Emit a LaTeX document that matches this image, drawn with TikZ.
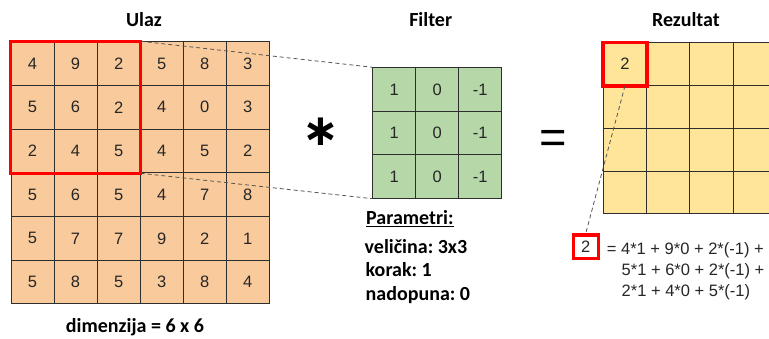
\documentclass[tikz,border=0pt]{standalone}
\usepackage{fontspec}
\setmainfont{Liberation Sans}
\newfontfamily\carl{Carlito}
\newfontfamily\deja{DejaVu Sans}
\frenchspacing
\definecolor{inc}{HTML}{F9CB9C}
\definecolor{fic}{HTML}{B6D7A8}
\definecolor{rec}{HTML}{FFE599}
\definecolor{gridc}{HTML}{2E2E2E}
\definecolor{redc}{HTML}{FF0000}
\definecolor{dashc}{HTML}{555555}
\tikzset{
  numfont/.style={font=\fontsize{16.5}{19}\selectfont},
  titlefont/.style={font=\carl\bfseries\fontsize{20}{24}\selectfont},
  incell/.style={draw=gridc, line width=0.9pt, fill=inc, minimum width=43.05pt, minimum height=43.7pt, inner sep=0pt, numfont, text=black!85},
  ficell/.style={draw=gridc, line width=0.9pt, fill=fic, minimum width=43pt, minimum height=43.5pt, inner sep=0pt, numfont, text=black!85},
  recell/.style={draw=gridc, line width=0.9pt, fill=rec, minimum width=43.3pt, minimum height=42.8pt, inner sep=0pt, numfont, text=black!85},
  redbox/.style={draw=redc, line width=3.5pt},
  dashline/.style={draw=dashc, line width=0.8pt, dash pattern=on 4pt off 3pt},
}
\begin{document}
\begin{tikzpicture}[x=1pt,y=-1pt]
\useasboundingbox (0,0) rectangle (769,338);
\clip (0,0) rectangle (769,338);
% input grid
\foreach \row [count=\r] in {{4,9,2,5,8,3},{5,6,2,4,0,3},{2,4,5,4,5,2},{5,6,5,4,7,8},{5,7,7,9,2,1},{5,8,5,3,8,4}} {
  \foreach \v [count=\c] in \row {
    \node[incell] (in-\r-\c) at ({11+(\c-0.5)*43.05},{41.7+(\r-0.5)*43.7}) {\v};
  }
}
% filter grid
\foreach \r in {1,2,3} {
  \foreach \v [count=\c] in {1,0,-1} {
    \node[ficell] (f-\r-\c) at ({372.7+(\c-0.5)*43},{67.7+(\r-0.5)*43.5}) {\v};
  }
}
% result grid
\foreach \r in {1,...,4} {
  \foreach \c in {1,...,4} {
    \node[recell] (res-\r-\c) at ({603.3+(\c-0.5)*43.3},{42.7+(\r-0.5)*42.8}) {};
  }
}
\node[numfont, text=black!85] (resv) at (res-1-1) {2};
% red boxes
\draw[redbox] (in-1-1.north west) rectangle (in-3-3.south east);
\draw[redbox] (res-1-1.north west) rectangle (res-1-1.south east);
% dashed connectors
\draw[dashline] (in-1-3.north east) -- (f-1-1.north west);
\draw[dashline] (in-3-3.south east) -- (f-3-1.south west);
% titles
\node[titlefont, anchor=base] (tulaz) at (144,26) {Ulaz};
\node[titlefont, anchor=base] (tfilter) at (430.7,26) {Filter};
\node[titlefont, anchor=base] (trez) at (686,26) {Rezultat};
\node[titlefont, anchor=base] (tdim) at (135,332) {dimenzija = 6 x 6};
% operators
\node[inner sep=0pt, font=\deja\bfseries\fontsize{44}{48}\selectfont] (ast) at (321,132) {∗};
\node[inner sep=0pt, anchor=base, font=\fontsize{47}{50}\selectfont] (eq) at (553.3,153.7) {=};
% parameters
\node[titlefont, anchor=base west, inner sep=0pt] (p0) at (366,224.5) {\underline{Parametri:}};
\node[titlefont, anchor=base west, inner sep=0pt] (p1) at (364.5,253.3) {veličina: 3x3};
\node[titlefont, anchor=base west, inner sep=0pt] (p2) at (365.5,276.7) {korak: 1};
\node[titlefont, anchor=base west, inner sep=0pt] (p3) at (365.5,300.7) {nadopuna: 0};
% small result box and equation
\node[draw=redc, line width=3.5pt, minimum width=25pt, minimum height=23.3pt, inner sep=0pt, numfont, text=black!85] (sb) at (585.8,246.6) {2};
\draw[dashline] (res-1-1.south) -- (sb.north);
\node[numfont, anchor=base west, inner sep=0pt, text=black!85] (eq1) at (606.7,254.5) {= 4*1 + 9*0 + 2*(-1) +};
\node[numfont, anchor=base west, inner sep=0pt, text=black!85] (eq2) at (621.5,275.5) {5*1 + 6*0 + 2*(-1) +};
\node[numfont, anchor=base west, inner sep=0pt, text=black!85] (eq3) at (621.5,296.5) {2*1 + 4*0 + 5*(-1)};
\end{tikzpicture}
\end{document}
